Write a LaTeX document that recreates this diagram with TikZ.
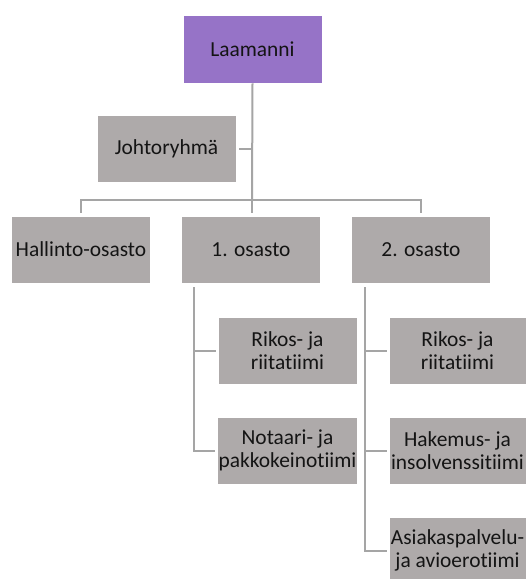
\documentclass[tikz,border=0pt]{standalone}
\usepackage{fontspec}
\setmainfont{Carlito}[Ligatures={NoCommon}]
\definecolor{boxgrey}{HTML}{AEAAAA}
\definecolor{boxpurple}{HTML}{9673C7}
\definecolor{linegrey}{HTML}{A5A5A5}
\definecolor{txt}{HTML}{141414}
\usetikzlibrary{calc}
\begin{document}
\begin{tikzpicture}[x=1bp,y=-1bp,
  box/.style={rectangle, fill=boxgrey, draw=white, line width=0.8bp,
    minimum width=139bp, minimum height=67bp, inner sep=1bp, align=center,
    text=txt, font=\fontsize{21.5}{23.5}\selectfont},
  topbox/.style={box, fill=boxpurple, minimum height=68bp},
  conn/.style={draw=linegrey, line width=2bp}]
\useasboundingbox (0,0) rectangle (526,579);
\fill[white] (0,0) rectangle (526,579);
\node[topbox] (L) at (252.5,49) {Laamanni};
\node[box] (J) at (166.5,149) {Johtoryhmä};
\node[box] (H) at (81,249.5) {Hallinto-osasto};
\node[box] (O1) at (251,249.5) {1. osasto};
\node[box] (O2) at (421,249.5) {2. osasto};
\node[box] (R1) at (287.5,350.5) {Rikos- ja\\riitatiimi};
\node[box] (N1) at (287.5,450.5) {Notaari- ja\\pakkokeinotiimi};
\node[box, minimum width=137bp] (R2) at (457.5,350.5) {Rikos- ja\\riitatiimi};
\node[box, minimum width=137bp] (K2) at (457.5,450.5) {Hakemus- ja\\insolvenssitiimi};
\node[box, minimum width=137bp] (A2) at (457.5,550.5) {Asiakaspalvelu-\\ja avioerotiimi};
\coordinate (bus) at (252,200);
\coordinate (v1) at ([xshift=13bp]O1.south west);
\coordinate (v2) at ([xshift=14bp]O2.south west);
% connectors
\draw[conn] (L.south) -- (bus);
\draw[conn, shorten <=3bp, shorten >=3bp] (H.north) |- (bus) -| (O2.north);
\draw[conn, shorten >=3bp] (bus) -- (bus |- O1.north);
\draw[conn, shorten <=3bp] (J.east) -- (J.east -| bus);
\draw[conn, shorten <=4bp, shorten >=2bp] (v1) |- (N1.west);
\draw[conn, shorten >=2bp] (v1 |- R1.west) -- (R1.west);
\draw[conn, shorten <=4bp, shorten >=2bp] (v2) |- (A2.west);
\draw[conn, shorten >=2bp] (v2 |- R2.west) -- (R2.west);
\draw[conn, shorten >=2bp] (v2 |- K2.west) -- (K2.west);
\end{tikzpicture}
\end{document}
